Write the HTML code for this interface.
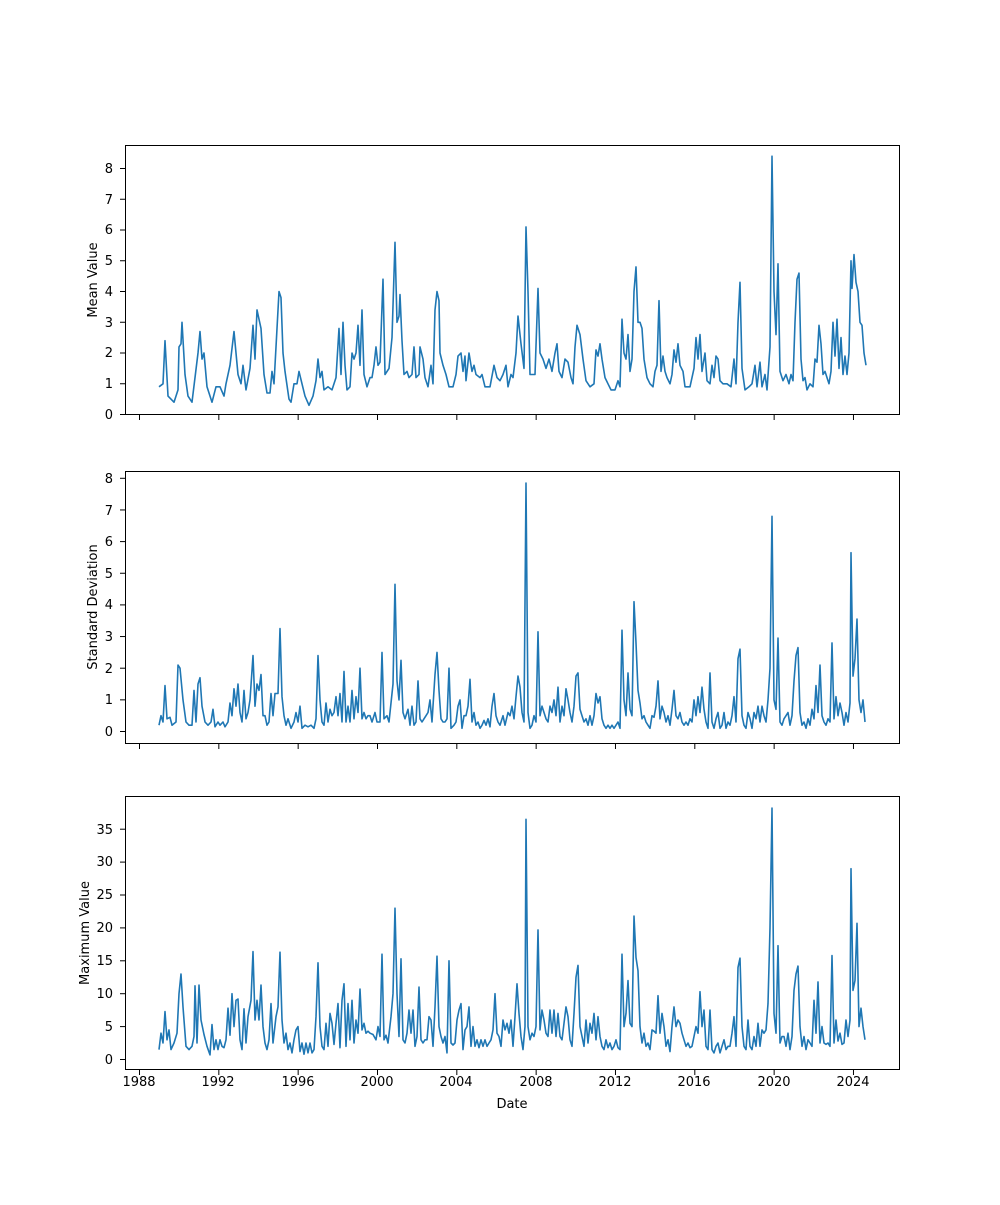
<!DOCTYPE html>
<html><head><meta charset="utf-8"><style>
body{margin:0;background:#fff}
svg text{font-family:"DejaVu Sans","Liberation Sans",sans-serif;font-size:13px;fill:#000}
</style></head><body>
<svg id="s" width="1000" height="1200" xmlns="http://www.w3.org/2000/svg">
<rect width="1000" height="1200" fill="#fff"/>
<g id="lines"></g>
<g fill="none" stroke="#000" stroke-width="1">
<rect x="125.5" y="145.5" width="774" height="269"/>
<rect x="125.5" y="471.5" width="774" height="272"/>
<rect x="125.5" y="796.5" width="774" height="273"/>
</g>
<g id="ticks" stroke="#000" stroke-width="1"></g>
<g text-anchor="end">
<text x="113" y="419">0</text><text x="113" y="388">1</text><text x="113" y="357">2</text><text x="113" y="327">3</text><text x="113" y="296">4</text><text x="113" y="265">5</text><text x="113" y="234">6</text><text x="113" y="204">7</text><text x="113" y="173">8</text>
<text x="113" y="736">0</text><text x="113" y="704">1</text><text x="113" y="673">2</text><text x="113" y="641">3</text><text x="113" y="609">4</text><text x="113" y="578">5</text><text x="113" y="546">6</text><text x="113" y="515">7</text><text x="113" y="483">8</text>
<text x="113" y="1064">0</text><text x="113" y="1031">5</text><text x="113" y="998">10</text><text x="113" y="965">15</text><text x="113" y="932">20</text><text x="113" y="899">25</text><text x="113" y="866">30</text><text x="113" y="834">35</text>
</g>
<g text-anchor="middle">
<text x="139" y="1086">1988</text><text x="218" y="1086">1992</text><text x="298" y="1086">1996</text><text x="377" y="1086">2000</text><text x="456" y="1086">2004</text><text x="536" y="1086">2008</text><text x="615" y="1086">2012</text><text x="694" y="1086">2016</text><text x="774" y="1086">2020</text><text x="853" y="1086">2024</text>
<text x="512" y="1108">Date</text>
<text transform="translate(97,280) rotate(-90)">Mean Value</text>
<text transform="translate(97,607) rotate(-90)">Standard Deviation</text>
<text transform="translate(89,933) rotate(-90)">Maximum Value</text>
</g>
</svg>
<script>
var p1=[159,.9,163,1,165,2.4,168,.6,174,.4,178,.8,179,2.2,181,2.3,182,3,185,1.3,188,.6,192,.4,195,1.2,198,2,200,2.7,202,1.8,204,2,207,.9,212,.4,216,.9,220,.9,224,.6,226,1,230,1.6,234,2.7,238,1.3,241,1,243,1.6,246,.8,250,1.5,253,2.9,255,1.8,257,3.4,261,2.8,264,1.3,267,.7,270,.7,272,1.4,274,1,276,2.2,279,4,281,3.8,283,2,285,1.4,289,.5,291,.4,294,1,297,1,299,1.4,302,1,305,.6,309,.3,313,.6,316,1.1,318,1.8,320,1.2,322,1.4,324,.8,328,.9,332,.8,336,1.2,339,2.8,341,1.3,343,3,345,1.6,347,.8,350,.9,352,2,354,1.8,356,2,358,2.9,360,1.6,362,3.4,364,1.3,367,.9,370,1.2,372,1.2,374,1.6,376,2.2,378,1.6,380,1.7,383,4.4,385,1.3,389,1.5,392,2.5,395,5.6,397,3,399,3.2,400,3.9,402,2.4,404,1.3,407,1.4,409,1.2,412,1.3,414,2.2,416,1.2,419,1.3,420,2.2,423,1.8,425,1.2,428,.9,431,1.6,433,1,435,3.4,437,4,439,3.7,440,2,443,1.6,446,1.3,449,.9,453,.9,456,1.3,458,1.9,461,2,463,1.4,465,1.9,466,1.1,469,2,472,1.4,474,1.6,476,1.3,480,1.2,482,1.3,485,.9,490,.9,494,1.6,497,1.2,500,1.1,503,1.3,506,1.6,508,.9,511,1.3,513,1.2,516,2,518,3.2,521,2.3,524,1.5,526,6.1,528,4,530,1.3,533,1.3,535,1.3,538,4.1,540,2,543,1.8,546,1.5,549,1.8,552,1.4,555,2,557,2.3,559,1.4,562,1.2,565,1.8,568,1.7,571,1.2,573,1,575,2.2,577,2.9,580,2.6,583,1.8,586,1.1,590,.9,594,1,596,2.1,598,1.9,600,2.3,602,1.8,605,1.2,608,1,611,.8,615,.8,618,1.1,620,.9,622,3.1,624,2,626,1.8,628,2.6,630,1.4,632,1.8,634,4,636,4.8,638,3,640,3,642,2.8,644,1.8,647,1.2,650,1,653,.9,655,1.4,657,1.6,659,3.7,661,1.4,663,1.9,665,1.4,667,1.2,670,1,672,1.3,674,2.1,676,1.7,678,2.3,680,1.6,683,1.4,685,.9,690,.9,694,1.5,696,2.5,698,1.8,700,2.6,702,1.4,705,2,707,1.1,710,1,712,1.6,714,1.2,716,1.9,718,1.8,720,1.1,723,1,727,1,731,.9,734,1.8,736,1,738,3,740,4.3,742,1.5,745,.8,749,.9,752,1,755,1.6,757,.9,760,1.7,762,.9,765,1.3,767,.8,770,2.2,772,8.4,774,4,776,2.6,778,4.9,780,1.4,783,1.1,786,1.3,789,1,791,1.3,793,1.1,795,3,797,4.4,799,4.6,801,1.8,803,1.1,805,1.2,807,.8,810,1,813,.9,815,1.8,817,1.7,819,2.9,821,2.3,823,1.3,825,1.4,827,1.2,829,1,831,1.4,833,3,835,1.9,837,3.1,839,1.5,841,2.5,843,1.3,845,1.9,847,1.3,849,2,851,5,852,4.1,854,5.2,856,4.3,858,4,860,3,862,2.9,864,2,866,1.6];
var p2=[159,.2,161,.5,163,.3,165,1.45,167,.4,170,.45,172,.2,176,.3,178,2.1,180,2,183,1,186,.3,189,.2,192,.2,194,1.3,196,.3,198,1.5,200,1.7,202,.8,205,.3,208,.2,211,.3,213,.7,215,.15,218,.3,220,.2,223,.3,225,.15,228,.3,230,.9,232,.5,234,1.35,236,.8,238,1.5,240,.6,242,.3,244,1.3,246,.4,248,.6,250,1,253,2.4,255,.8,257,1.5,259,1.3,261,1.8,263,.5,265,.5,267,.2,269,.3,271,1.2,273,.5,275,1.2,278,1.2,280,3.25,282,1.1,284,.5,286,.2,288,.4,291,.1,294,.3,296,.6,298,.3,300,.8,302,.1,305,.2,308,.15,311,.2,314,.1,316,.4,318,2.4,320,1,322,.3,324,.2,326,.9,328,.3,330,.7,332,.5,334,.6,336,1.1,338,.5,340,1.2,342,.3,344,1.9,346,.3,348,.8,350,.3,352,1.3,354,.4,356,1.1,358,.6,360,2,362,.4,364,.6,366,.4,368,.5,370,.5,372,.3,375,.6,377,.3,380,.3,382,2.5,384,.4,387,.5,389,.3,391,.9,393,1.5,395,4.65,397,1.6,399,1,401,2.25,403,.6,405,.4,408,.7,410,.2,412,.8,414,.2,416,.3,418,1.6,420,.4,422,.3,424,.4,426,.5,428,.6,430,1,432,.3,435,1.8,437,2.5,439,1.3,441,.4,443,.3,445,.3,447,.4,449,2,451,.1,454,.2,456,.3,458,.8,460,1,462,.1,464,.5,466,.5,468,.8,470,1.65,472,.3,474,.6,476,.2,478,.3,480,.1,482,.2,484,.35,486,.2,488,.4,490,.15,492,.8,494,1.2,496,.5,498,.3,500,.2,503,.5,505,.2,508,.6,510,.5,512,.8,514,.4,516,1.1,518,1.75,520,1.4,522,.6,524,.3,526,7.85,528,.6,530,.1,532,.2,534,.5,536,.3,538,3.15,540,.5,542,.8,544,.6,546,.4,548,.3,550,.8,552,.6,554,1,556,.5,558,1.4,560,.3,562,.8,564,.5,566,1.35,568,1,570,.6,572,.3,574,.8,576,1.75,578,1.85,580,.7,582,.5,584,.3,586,.4,588,.2,590,.5,592,.2,594,.5,596,1.2,598,.9,600,1.1,602,.4,604,.2,606,.1,608,.2,610,.1,612,.2,614,.1,616,.2,618,.3,620,.1,622,3.2,624,1,626,.5,628,1.85,630,.7,632,.5,634,4.1,636,2.8,638,1.3,640,.9,642,.4,644,.5,646,.3,648,.2,650,.1,652,.5,654,.45,656,.8,658,1.6,660,.4,662,.8,664,.6,666,.3,668,.5,670,.2,672,.7,674,1.3,676,.5,678,.4,680,.6,682,.3,684,.2,686,.3,688,.2,690,.4,692,.3,694,1,696,.5,698,1.1,700,.6,702,1.4,704,.7,706,.3,708,.1,710,1.85,712,.3,714,.1,716,.4,718,.6,720,.1,722,.2,724,.6,726,.1,728,.3,730,.2,732,.5,734,1.1,736,.3,738,2.3,740,2.6,742,.5,744,.2,746,.1,748,.6,750,.4,752,.1,754,.6,756,.4,758,.8,760,.3,762,.8,764,.5,766,.3,768,1,770,2,772,6.8,774,1,776,.7,778,2.95,780,.3,782,.2,784,.4,786,.5,788,.6,790,.2,792,.5,794,1.6,796,2.4,798,2.65,800,.6,802,.2,804,.3,806,.1,808,.4,810,.2,812,.7,814,.4,816,1.45,818,.6,820,2.1,822,.5,824,.3,826,.2,828,.4,830,.3,832,2.8,834,.4,836,1.1,838,.5,840,.9,842,.6,844,.2,846,.6,848,.3,850,.9,851,5.65,853,1.75,855,2.3,857,3.55,859,1,861,.6,863,1,865,.3];
var p3=[159,1.5,161,4,163,2.5,165,7.3,167,3,169,4.5,171,1.5,174,2.5,177,4,179,10,181,13,183,8,186,2,189,1.5,192,2,194,3.5,195,11.2,197,2.5,199,11.3,201,6,204,3.8,207,2,210,.7,212,5.3,214,1.5,216,3,218,1.5,220,3,222,2,224,1.8,226,3,228,7.8,230,3.7,232,10,234,5,236,9,238,9.2,240,3,242,1.5,244,7.7,246,2.5,248,6.5,251,9,253,16.4,255,6,257,9,259,6,261,11.3,263,5,265,2.5,267,1.5,269,3,271,8.5,273,2.5,276,6.5,278,8,280,16.3,282,6,284,2.5,286,4,288,1.5,290,2.5,292,1,294,3,296,4.5,298,5,300,1.2,302,2.5,304,.8,306,2.5,308,1,310,2.5,312,1,314,1.5,316,6.5,318,14.7,320,5,322,2,324,1.5,326,5.5,328,2,330,7,332,5.5,334,2.3,336,5.5,338,8.5,340,1.8,342,9,344,11.5,346,2,348,8.5,350,3,352,9,354,2.5,356,6,358,4,360,10.7,362,4.5,364,5.5,366,4,368,4.3,370,4,373,3.8,376,3,378,5,380,3.5,382,16,384,3,386,3.7,388,2.5,391,6.5,393,10,395,23,397,10,399,3.5,401,15.3,403,3,405,2.5,407,4,409,7.5,411,4,413,7.5,415,2,417,3.5,419,11,421,3,423,2.5,425,3,427,3,429,6.5,431,6,433,2,435,8,437,15.7,439,5,441,3.5,443,2.5,445,3.5,447,1,449,15,451,2.5,453,2.2,455,2.5,457,6,459,7.5,461,8.5,463,1.5,465,4.5,467,5,469,8,471,2,473,5,475,2,477,3,479,1.8,481,3,483,2,485,3,487,2,489,2.5,491,3,493,4.5,495,10,497,4,499,3.5,501,2,503,6,505,4.5,507,5.5,509,4,511,6,513,2,515,6.5,517,11.5,519,7,521,3.5,523,1.5,525,5,526,36.5,528,5,530,3,532,4,534,3.5,536,5,538,19.7,540,4.5,542,7.5,544,6,546,4,548,3.5,550,7.5,552,4,554,7.5,556,3.5,558,7,560,3.5,562,3,564,5.5,566,8,568,6.5,570,3,572,2,574,7,576,12.5,578,14.3,580,5,582,3.5,584,2,586,6,588,2.5,590,5.5,592,4,594,7,596,3,598,6.5,600,3.5,602,2,604,1.5,606,3,608,1.8,610,2.5,612,1.5,614,2,616,3,618,1.8,620,1.5,622,16,624,5,626,7,628,12,630,5.5,632,5,634,21.8,636,15.5,638,13.5,640,5,642,2.5,644,4,646,2,648,2.5,650,1.5,652,4.5,654,4.3,656,4,658,9.7,660,4,662,7,664,5,666,2,668,3,670,1.2,672,5,674,8,676,5,678,6,680,5.5,682,4,684,3,686,2,688,2.5,690,1.8,692,2,694,3.5,696,5,698,4,700,10.3,702,5,704,7.5,706,2,708,1.5,710,7.5,712,1.5,714,1,716,2,718,2.5,720,1,722,2,724,3,726,1.5,728,2,730,2,732,4,734,6.5,736,2,738,14,740,15.4,742,5,744,2,746,1.5,748,6,750,2,752,1.5,754,3.5,756,2,758,5.5,760,2,762,4.5,764,4,766,4.5,768,8.5,770,20,772,38.2,774,7,776,4,778,17.3,780,2.5,782,3.5,784,3.5,786,2,788,4,790,1.5,792,3.5,794,10.5,796,13,798,14.2,800,5,802,2,804,3.5,806,1.5,808,3,810,2.5,812,2,814,9,816,4,818,11.8,820,2.5,822,5,824,2.5,826,2.3,828,2.5,830,2,832,15.8,834,2.5,836,6,838,2.8,840,4,842,2.3,844,2.5,846,6,848,3.5,850,6,851,29,853,10.5,855,12,857,20.7,859,5,861,7.8,863,5,865,3];
var NS="http://www.w3.org/2000/svg",L=document.getElementById('lines'),T=document.getElementById('ticks');
function line(a,y0,k){var s=[];for(var i=0;i<a.length;i+=2)s.push(a[i]+','+(y0-a[i+1]*k).toFixed(1));
var p=document.createElementNS(NS,'polyline');p.setAttribute('points',s.join(' '));p.setAttribute('fill','none');p.setAttribute('stroke','#1f77b4');p.setAttribute('stroke-width','1.6');p.setAttribute('stroke-linejoin','round');L.appendChild(p);}
line(p1,414.5,30.75);line(p2,731.5,31.65);line(p3,1059.5,6.58);
function tk(x1,y1,x2,y2){var l=document.createElementNS(NS,'line');l.setAttribute('x1',x1);l.setAttribute('y1',y1);l.setAttribute('x2',x2);l.setAttribute('y2',y2);T.appendChild(l);}
for(var k=0;k<=9;k++){var x=139.5+79.33*k;tk(x,415,x,420);tk(x,744,x,749);tk(x,1070,x,1075);}
for(k=0;k<=8;k++){var y=414.5-30.75*k;tk(120,y,125,y);y=731.5-31.65*k;tk(120,y,125,y);}
for(k=0;k<=7;k++){y=1059.5-32.9*k;tk(120,y,125,y);}
</script>
</body></html>
